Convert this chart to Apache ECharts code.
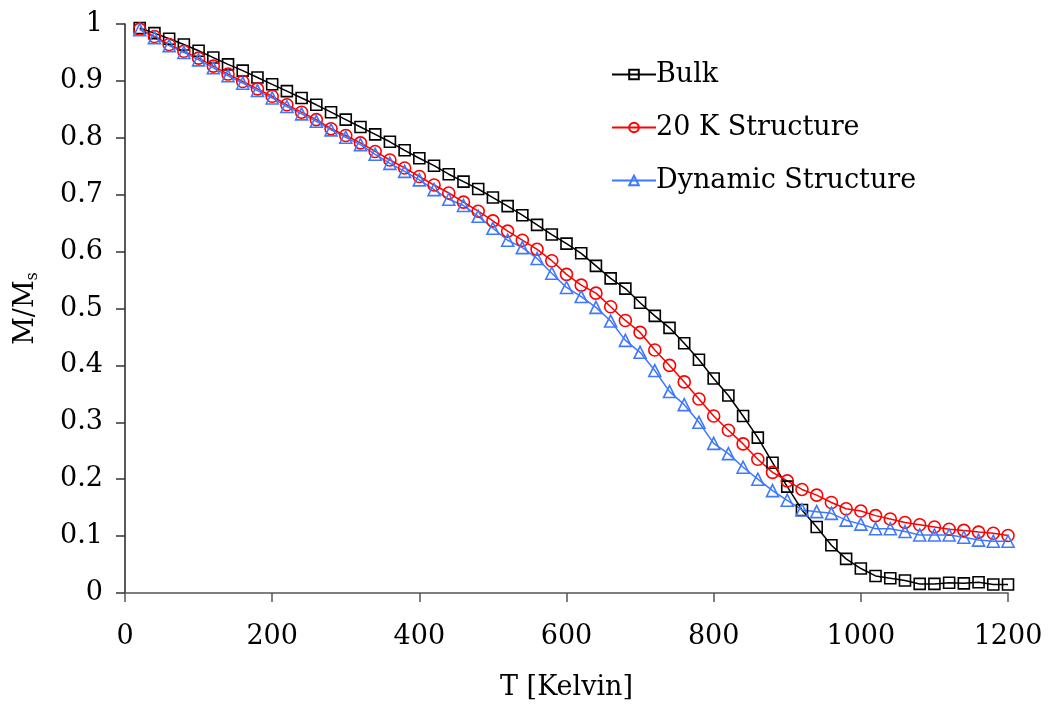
<!DOCTYPE html>
<html>
<head>
<meta charset="utf-8">
<script src="https://cdn.jsdelivr.net/npm/echarts@6/dist/echarts.min.js"></script>
<style>
  html, body { margin: 0; padding: 0; background: #fff; }
  #chart { width: 1050px; height: 706px; }
</style>
</head>
<body>
<div id="chart"></div>
<script>
// Temperature samples in Kelvin
const temperature = [
  20, 40, 60, 80, 100, 120, 140, 160, 180, 200,
  220, 240, 260, 280, 300, 320, 340, 360, 380, 400,
  420, 440, 460, 480, 500, 520, 540, 560, 580, 600,
  620, 640, 660, 680, 700, 720, 740, 760, 780, 800,
  820, 840, 860, 880, 900, 920, 940, 960, 980, 1000,
  1020, 1040, 1060, 1080, 1100, 1120, 1140, 1160, 1180, 1200
];

// Normalised magnetisation M/Ms
const bulk = [
  0.993, 0.984, 0.974, 0.964, 0.953, 0.941, 0.929, 0.918, 0.906, 0.894,
  0.882, 0.870, 0.858, 0.845, 0.832, 0.819, 0.806, 0.793, 0.778, 0.764,
  0.751, 0.736, 0.723, 0.710, 0.695, 0.680, 0.664, 0.647, 0.630, 0.614,
  0.597, 0.575, 0.553, 0.535, 0.510, 0.487, 0.466, 0.439, 0.410, 0.377,
  0.347, 0.311, 0.273, 0.229, 0.187, 0.146, 0.116, 0.084, 0.060, 0.043,
  0.030, 0.026, 0.022, 0.016, 0.016, 0.018, 0.017, 0.019, 0.015, 0.015
];

const structure20K = [
  0.991, 0.978, 0.964, 0.952, 0.940, 0.926, 0.912, 0.899, 0.886, 0.873,
  0.858, 0.845, 0.832, 0.816, 0.804, 0.791, 0.776, 0.761, 0.747, 0.732,
  0.717, 0.703, 0.687, 0.671, 0.654, 0.636, 0.620, 0.604, 0.584, 0.560,
  0.541, 0.527, 0.503, 0.479, 0.458, 0.427, 0.400, 0.371, 0.341, 0.311,
  0.286, 0.262, 0.235, 0.212, 0.197, 0.182, 0.172, 0.159, 0.148, 0.144,
  0.136, 0.130, 0.124, 0.120, 0.116, 0.112, 0.110, 0.107, 0.105, 0.101
];

const dynamicStructure = [
  0.990, 0.976, 0.962, 0.950, 0.937, 0.923, 0.909, 0.896, 0.883, 0.870,
  0.855, 0.842, 0.829, 0.814, 0.801, 0.788, 0.771, 0.755, 0.741, 0.726,
  0.709, 0.692, 0.681, 0.662, 0.641, 0.620, 0.607, 0.588, 0.562, 0.537,
  0.521, 0.502, 0.478, 0.444, 0.423, 0.391, 0.354, 0.331, 0.300, 0.263,
  0.245, 0.221, 0.200, 0.180, 0.163, 0.146, 0.143, 0.140, 0.128, 0.121,
  0.113, 0.113, 0.108, 0.102, 0.102, 0.102, 0.098, 0.093, 0.091, 0.091
];

const seriesNames = ['Bulk', '20 K Structure', 'Dynamic Structure'];

const FONT = 'DejaVu Serif';
const FONT_SIZE = 27;

function pairs(values) {
  return temperature.map((t, i) => [t, values[i]]);
}

function makeSeries(name, values, color, symbol, size) {
  return {
    name: name,
    type: 'line',
    data: pairs(values),
    symbol: symbol,
    symbolSize: size,
    showAllSymbol: true,
    clip: false,
    lineStyle: { color: color, width: 1.5 },
    itemStyle: { color: 'rgba(255,255,255,0)', borderColor: color, borderWidth: 1.6 },
    emphasis: { disabled: true }
  };
}

const chart = echarts.init(document.getElementById('chart'), null, { renderer: 'canvas' });

chart.setOption({
  animation: false,
  backgroundColor: '#fff',
  grid: { left: 125, right: 42, top: 24, bottom: 111, containLabel: false },
  legend: {
    orient: 'vertical',
    left: 606,
    top: 56,
    itemWidth: 44,
    itemHeight: 12,
    itemGap: 26,
    data: seriesNames,
    textStyle: { fontFamily: FONT, fontSize: FONT_SIZE, color: '#000', padding: [0, 0, 0, -5] }
  },
  xAxis: {
    type: 'value',
    min: 0,
    max: 1200,
    interval: 200,
    name: 'T [Kelvin]',
    nameLocation: 'middle',
    nameGap: 81,
    nameTextStyle: { fontFamily: FONT, fontSize: FONT_SIZE, color: '#000' },
    axisLine: { lineStyle: { color: '#555', width: 1.5 } },
    axisTick: { show: true, inside: false, length: 9, lineStyle: { color: '#555', width: 1.5 } },
    axisLabel: {
      fontFamily: FONT, fontSize: FONT_SIZE, color: '#000', margin: 30,
      formatter: (v) => String(v)
    },
    splitLine: { show: false }
  },
  yAxis: {
    type: 'value',
    min: 0,
    max: 1,
    interval: 0.1,
    name: '{n|M/M}{s|s}',
    nameLocation: 'middle',
    nameGap: 84,
    nameRotate: 90,
    nameTextStyle: {
      fontFamily: FONT,
      color: '#000',
      rich: {
        n: { fontFamily: FONT, fontSize: FONT_SIZE, color: '#000' },
        s: { fontFamily: FONT, fontSize: 16, color: '#000', verticalAlign: 'bottom', padding: [15, 0, 0, 0] }
      }
    },
    axisLine: { show: true, lineStyle: { color: '#222', width: 1.5 } },
    axisTick: { show: true, inside: false, length: 9, lineStyle: { color: '#333', width: 1.5 } },
    axisLabel: {
      fontFamily: FONT, fontSize: FONT_SIZE, color: '#000', margin: 22,
      formatter: (v) => String(Math.round(v * 10) / 10)
    },
    splitLine: { show: false }
  },
  series: [
    makeSeries(seriesNames[0], bulk, '#000000', 'rect', 11),
    makeSeries(seriesNames[1], structure20K, '#ff0000', 'circle', 12),
    makeSeries(seriesNames[2], dynamicStructure, '#3f78ff', 'triangle', 12)
  ]
});
</script>
</body>
</html>
